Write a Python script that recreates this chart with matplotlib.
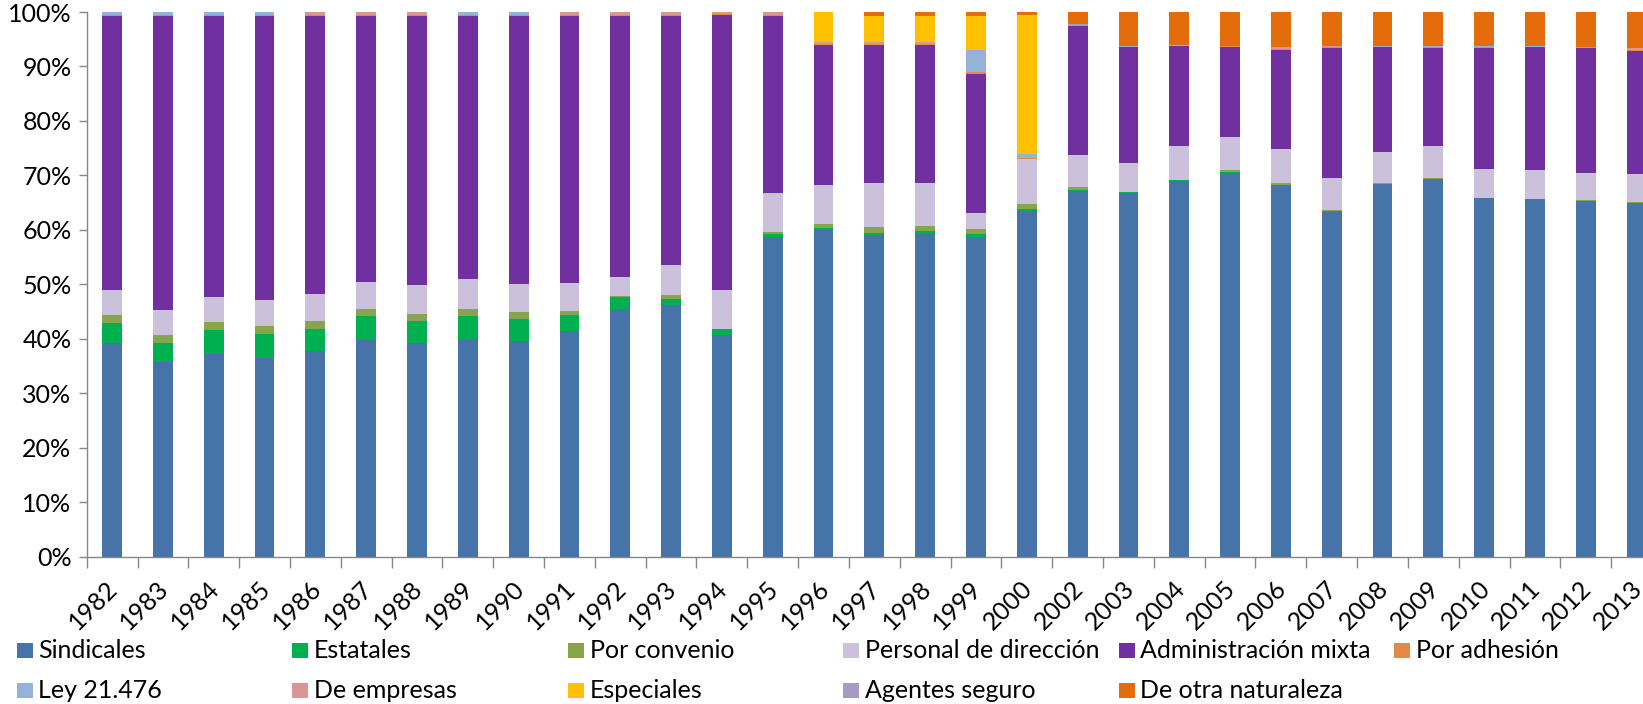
import numpy as np
import matplotlib.pyplot as plt
from matplotlib.patches import Rectangle
import matplotlib.transforms as mtransforms

plt.rcParams['font.family'] = ['Lato', 'DejaVu Sans']

years = ['1982', '1983', '1984', '1985', '1986', '1987', '1988', '1989', '1990',
         '1991', '1992', '1993', '1994', '1995', '1996', '1997', '1998', '1999',
         '2000', '2002', '2003', '2004', '2005', '2006', '2007', '2008', '2009',
         '2010', '2011', '2012', '2013']

# shares in % per year
sindicales = [39.2, 35.8, 37.2, 36.5, 37.7, 39.8, 39.2, 39.8, 39.5, 41.4, 45.5, 46.2, 40.7,
              58.6, 60.0, 59.0, 59.2, 58.7, 63.4, 67.1, 66.7, 69.0, 70.5, 68.2, 63.2, 68.5,
              69.4, 65.8, 65.6, 65.3, 65.0]
estatales = [3.7, 3.5, 4.4, 4.4, 4.1, 4.4, 4.0, 4.4, 4.2, 3.0, 2.1, 1.1, 1.0,
             0.6, 0.4, 0.5, 0.5, 0.5, 0.5, 0.3, 0.2, 0.1, 0.1, 0.1, 0.3, 0.0,
             0.0, 0.1, 0.1, 0.0, 0.0]
por_convenio = [1.5, 1.4, 1.4, 1.4, 1.4, 1.3, 1.4, 1.3, 1.2, 0.6, 0.2, 0.7, 0.1,
                0.4, 0.6, 1.0, 1.0, 0.9, 0.8, 0.5, 0.1, 0.0, 0.4, 0.3, 0.1, 0.1,
                0.2, 0.0, 0.0, 0.2, 0.1]
personal_direccion = [4.5, 4.6, 4.6, 4.8, 5.1, 4.9, 5.3, 5.5, 5.2, 5.3, 3.5, 5.5, 7.1,
                      7.2, 7.2, 8.1, 7.9, 3.0, 8.3, 5.8, 5.3, 6.2, 6.0, 6.2, 6.0, 5.6,
                      5.7, 5.3, 5.3, 5.0, 5.1]
admin_mixta = [50.4, 54.0, 51.7, 52.2, 51.0, 48.9, 49.4, 48.3, 49.2, 49.0, 48.0, 45.8, 50.6,
               32.5, 25.7, 25.4, 25.4, 25.6, 0.0, 23.8, 21.3, 18.5, 16.6, 18.2, 23.7, 19.4,
               18.0, 22.1, 22.6, 22.8, 22.7]
por_adhesion = [0.2, 0.2, 0.2, 0.2, 0.2, 0.2, 0.2, 0.2, 0.2, 0.2, 0.2, 0.2, 0.2,
                0.2, 0.2, 0.2, 0.2, 0.3, 0.2, 0.0, 0.0, 0.0, 0.2, 0.2, 0.2, 0.0,
                0.2, 0.3, 0.0, 0.0, 0.2]
ley_21476 = [0.5, 0.5, 0.5, 0.5, 0.0, 0.0, 0.0, 0.5, 0.5, 0.0, 0.0, 0.0, 0.0,
             0.0, 0.0, 0.0, 0.0, 4.1, 0.7, 0.0, 0.2, 0.2, 0.0, 0.0, 0.0, 0.2,
             0.3, 0.2, 0.2, 0.0, 0.0]
de_empresas = [0.0, 0.0, 0.0, 0.0, 0.5, 0.5, 0.5, 0.0, 0.0, 0.5, 0.5, 0.5, 0.3,
               0.5, 0.3, 0.3, 0.3, 0.0, 0.0, 0.0, 0.0, 0.0, 0.0, 0.4, 0.3, 0.0,
               0.0, 0.0, 0.0, 0.0, 0.2]
especiales = [0.0, 0.0, 0.0, 0.0, 0.0, 0.0, 0.0, 0.0, 0.0, 0.0, 0.0, 0.0, 0.0,
              0.0, 5.6, 4.8, 4.8, 6.2, 25.6, 0.0, 0.0, 0.0, 0.0, 0.0, 0.0, 0.0,
              0.0, 0.0, 0.0, 0.0, 0.0]
agentes_seguro = [0.0, 0.0, 0.0, 0.0, 0.0, 0.0, 0.0, 0.0, 0.0, 0.0, 0.0, 0.0, 0.0,
                  0.0, 0.0, 0.0, 0.0, 0.0, 0.0, 0.3, 0.0, 0.0, 0.0, 0.0, 0.0, 0.0,
                  0.0, 0.0, 0.0, 0.3, 0.0]
otra_naturaleza = [0.0, 0.0, 0.0, 0.0, 0.0, 0.0, 0.0, 0.0, 0.0, 0.0, 0.0, 0.0, 0.0,
                   0.0, 0.0, 0.7, 0.7, 0.7, 0.5, 2.2, 6.2, 6.0, 6.2, 6.4, 6.2, 6.2,
                   6.2, 6.2, 6.2, 6.4, 6.7]

names = ['Sindicales', 'Estatales', 'Por convenio', 'Personal de dirección',
         'Administración mixta', 'Por adhesión', 'Ley 21.476', 'De empresas',
         'Especiales', 'Agentes seguro', 'De otra naturaleza']
series = [sindicales, estatales, por_convenio, personal_direccion, admin_mixta,
          por_adhesion, ley_21476, de_empresas, especiales, agentes_seguro, otra_naturaleza]
colors = ['#4673A8', '#00B050', '#88A54E', '#CCC1DA', '#7030A0', '#E38B45',
          '#95B3D7', '#D99694', '#FFC000', '#A899C2', '#E46C0A']

W, H = 1643, 704
fs = 18
fig = plt.figure(figsize=(W / 100, H / 100), dpi=100)
# axes run past the right edge, the last bar is cut like in the source
ax = fig.add_axes([86.7 / W, (H - 556.5) / H, (1662 - 86.7) / W, (556.5 - 12) / H])

x = np.arange(len(years))
bottom = np.zeros(len(years))
for vals, name, c in zip(series, names, colors):
    vals = np.array(vals)
    ax.bar(x, vals, width=0.39, bottom=bottom, color=c, label=name, linewidth=0)
    bottom += vals

gray = '#868686'
ax.set_xlim(-0.5, len(years) - 0.5)
ax.set_ylim(0, 100)
for s in ['top', 'right']:
    ax.spines[s].set_visible(False)
for s in ['left', 'bottom']:
    ax.spines[s].set_color(gray)
    ax.spines[s].set_linewidth(1)

ax.set_yticks(np.arange(0, 101, 10))
ax.set_yticklabels([f'{v}%' for v in range(0, 101, 10)])
ax.tick_params(axis='y', length=6, width=1, color=gray, pad=5, labelsize=fs)

ax.set_xticks(x)
ax.set_xticklabels(years, rotation=45, ha='right', va='center', rotation_mode='anchor')
ax.set_xticks(np.arange(-0.5, len(years), 1), minor=True)
ax.tick_params(axis='x', which='major', length=0, pad=20, labelsize=fs)
ax.tick_params(axis='x', which='minor', length=8, width=1, color=gray)
shift = mtransforms.ScaledTranslation(2 / 100, 0, fig.dpi_scale_trans)
for lab in ax.get_xticklabels():
    lab.set_transform(lab.get_transform() + shift)

# legend laid out like the Excel one: 6 even columns, 2 rows
for i, (name, c) in enumerate(zip(names, colors)):
    col, row = i % 6, i // 6
    px = 16.5 + col * 275.5
    py = 650.5 + row * 40
    fig.add_artist(Rectangle((px / W, (H - py - 7.5) / H), 16 / W, 15 / H,
                             transform=fig.transFigure, color=c, linewidth=0))
    fig.text((px + 22) / W, (H - py) / H, name, fontsize=fs, va='center', ha='left')

fig.savefig('out.png', dpi=100)
